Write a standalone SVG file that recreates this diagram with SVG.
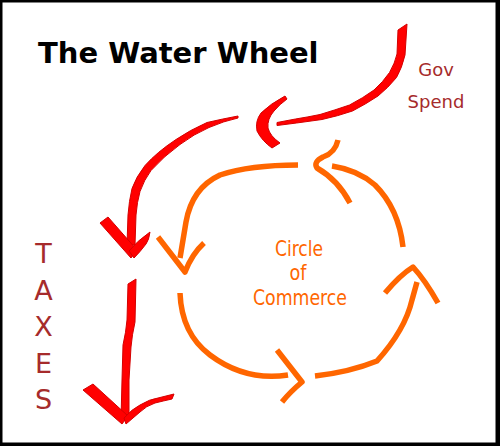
<svg xmlns="http://www.w3.org/2000/svg" width="500" height="446" viewBox="0 0 500 446">
<style>
.red{fill:#ff0000;stroke:#d40000;stroke-width:1;stroke-linejoin:round}
.org{fill:none;stroke:#ff6600;stroke-width:5.5;stroke-linecap:butt;stroke-linejoin:round}
.lab{fill:#a62b2b;font-family:"DejaVu Sans",Verdana,sans-serif;text-anchor:middle}
.cc{fill:#ff6600;font-family:"DejaVu Sans Condensed","DejaVu Sans",sans-serif;font-size:22px;text-anchor:middle}
</style>
<rect x="0" y="0" width="500" height="446" fill="#000"/>
<rect x="2.5" y="2.5" width="493" height="440" fill="#fff"/>
<g id="title"><text x="38" y="63" font-family="DejaVu Sans,sans-serif" font-weight="bold" font-size="29">The Water Wheel</text></g>
<g id="gov-spend">
<text class="lab" x="436" y="76" font-size="18">Gov</text>
<text class="lab" x="436" y="108" font-size="18">Spend</text>
</g>
<g id="taxes" class="lab" font-size="27">
<text x="43.5" y="263" class="lab">T</text>
<text x="43.5" y="299.5" class="lab">A</text>
<text x="43.5" y="336" class="lab">X</text>
<text x="43.5" y="372.5" class="lab">E</text>
<text x="43.5" y="409" class="lab">S</text>
</g>
<g id="circle-label">
<text class="cc" x="299" y="256" textLength="48" lengthAdjust="spacingAndGlyphs">Circle</text>
<text class="cc" x="298" y="280" textLength="17" lengthAdjust="spacingAndGlyphs">of</text>
<text class="cc" x="300" y="305" textLength="94" lengthAdjust="spacingAndGlyphs">Commerce</text>
</g>
<g id="connectors">
<g id="gov-arrow">
<path class="red" d="M398,30 L407,24 L405,55 Q402,68 396.5,77.5 Q388,88 378,96 Q366,104 352.5,111 Q338,116 322,119.5 L296.5,123 L277,125.5 L277,122.5 L295.5,119 Q308,117 320,114.5 Q335,110 349.5,105 Q363,98 374,90 Q383,82 389.5,72.5 Q395,63 397,54 Z"/>
<path class="red" d="M285,96 Q270,104 261,113 Q255,121 257,131 Q262,141 272,148 L280,143 Q270,136 268,128 Q267,119 274,111 Q280,104 287,99 Z"/>
</g>
<g id="tax-arrow-1">
<path class="red" d="M238,116 Q222,119 207,122.5 Q190,130 176,139.5 Q157,152 145,165.5 Q136,177 132,188.5 Q129,201 128,215 L127,245 L135,245 L136,215 Q137,202 140,191.5 Q144,180 151,170.5 Q164,156 180,144.5 Q194,134 209,127.5 Q224,121 238,118 Z"/>
<path class="red" d="M100,223 L108,217 L137,250 L131,258 Z"/>
<path class="red" d="M129,251 Q137,241 150,232 Q149,240 146,244 Q140,252 134,258 Z"/>
</g>
<g id="tax-arrow-2">
<path class="red" d="M128,284 L136,279 L135,322 Q132,335 131,347 L129,380 L129,420 L121,420 L122,380 L123,345 Q126,332 127,320 Z"/>
<path class="red" d="M83,390 L93,384 L128,416 L122,424 Z"/>
<path class="red" d="M124,418 Q132,409 140,405 Q150,399 158,398 L174,394 L172,399 Q163,401 155,403 Q146,406 140,412 Q133,418 126,424 Z"/>
</g>
<g id="commerce-circle">
<path class="org" d="M298,165 Q250,165 220,175 Q192,188 186,222 L180,258"/>
<path class="org" d="M158,237 L185,272 Q192,254 204,243"/>
<path class="org" stroke-width="6" d="M180,293 C181,320 190,340 210,355 C230,370 255,380 288,375"/>
<path class="org" stroke-width="6" d="M277,350 L302,382 Q290,392 282,402"/>
<path class="org" d="M315,376 Q350,372 377,361 Q405,330 412,300 L417,282"/>
<path class="org" d="M385,293 Q400,275 413,267 Q425,280 438,303"/>
<path class="org" d="M403,247 C400,220 390,200 375,185 C360,172 345,168 332,166"/>
<path class="org" d="M338,140 Q335,153 323,157 Q313,162 317,168 Q338,180 350,203"/>
</g>
</g>
</svg>
